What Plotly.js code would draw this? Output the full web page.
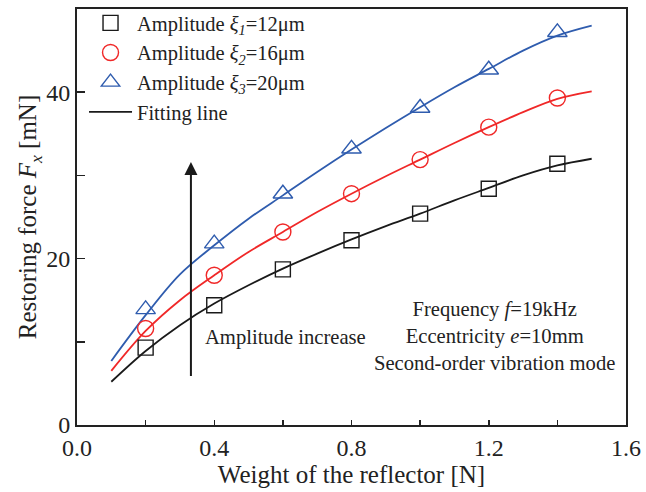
<!DOCTYPE html>
<html>
<head>
<meta charset="utf-8">
<script src="https://cdn.plot.ly/plotly-3.0.1.min.js"></script>
<style>html,body{margin:0;padding:0;background:#fff;}#chart{width:646px;height:492px;}</style>
</head>
<body>
<div id="chart"></div>
<script>
// Measured data points
const weights = [0.2, 0.4, 0.6, 0.8, 1.0, 1.2, 1.4];
const force12 = [9.3, 14.4, 18.7, 22.2, 25.4, 28.4, 31.4];
const force16 = [11.6, 18.0, 23.2, 27.8, 31.9, 35.8, 39.3];
const force20 = [13.9, 21.8, 27.8, 33.2, 38.1, 42.7, 47.2];

// Fitting lines
const fitX   = [0.1, 0.2, 0.3, 0.4, 0.5, 0.6, 0.7, 0.8, 0.9, 1.0, 1.1, 1.2, 1.3, 1.4, 1.5];
const fit12  = [5.2, 8.9, 12.0, 14.6, 16.8, 18.8, 20.6, 22.3, 23.9, 25.4, 27.0, 28.5, 30.0, 31.2, 32.0];
const fit16  = [6.5, 11.3, 15.0, 18.0, 20.8, 23.2, 25.6, 27.8, 29.9, 31.9, 33.9, 35.8, 37.6, 39.2, 40.1];
const fit20  = [7.7, 13.2, 18.1, 21.6, 24.8, 27.6, 30.4, 33.1, 35.7, 38.2, 40.6, 42.8, 45.0, 46.8, 48.0];

const xTickVals = [0, 0.2, 0.4, 0.6, 0.8, 1.0, 1.2, 1.4, 1.6];
const xTickText = ["0.0", "", "0.4", "", "0.8", "", "1.2", "", "1.6"];
const yTickVals = [0, 10, 20, 30, 40];
const yTickText = ["0", "", "20", "", "40"];

const names = [
  "Amplitude <i>ξ<sub>1</sub></i>=12μm",
  "Amplitude <i>ξ<sub>2</sub></i>=16μm",
  "Amplitude <i>ξ<sub>3</sub></i>=20μm",
  "Fitting line"
];

const BLACK = "#1a1a1a", RED = "#f02828", BLUE = "#2f5cae";
const FONT = "Liberation Serif";
const TXT = "#222";

const traces = [
  {x: fitX, y: fit20, mode: "lines", line: {color: BLUE, width: 1.8, shape: "spline"}, showlegend: false, hoverinfo: "skip"},
  {x: fitX, y: fit16, mode: "lines", line: {color: RED, width: 1.8, shape: "spline"}, showlegend: false, hoverinfo: "skip"},
  {x: weights, y: force12, mode: "markers", name: names[0], legendrank: 1,
   marker: {symbol: "square-open", size: 15, color: BLACK, line: {width: 1.4, color: BLACK}}},
  {x: weights, y: force16, mode: "markers", name: names[1], legendrank: 2,
   marker: {symbol: "circle-open", size: 16, color: RED, line: {width: 1.4, color: RED}}},
  {x: weights, y: force20, mode: "markers", name: names[2], legendrank: 3,
   marker: {symbol: "triangle-up-open", size: 17, color: BLUE, line: {width: 1.4, color: BLUE}}},
  {x: fitX, y: fit12, mode: "lines", name: names[3], legendrank: 4,
   line: {color: BLACK, width: 1.8, shape: "spline"}}
];

const layout = {
  width: 646, height: 492,
  margin: {l: 77, r: 20, t: 9, b: 67, autoexpand: false},
  paper_bgcolor: "#fff", plot_bgcolor: "#fff",
  font: {family: FONT, color: TXT, size: 20},
  showlegend: true,
  legend: {x: 0.0128, y: 1.0144, xanchor: "left", yanchor: "top", bgcolor: "rgba(0,0,0,0)",
           font: {family: FONT, size: 20.5, color: TXT}, tracegroupgap: 0, itemwidth: 43},
  xaxis: {
    range: [0, 1.6], tickvals: xTickVals, ticktext: xTickText,
    ticks: "inside", ticklen: 5, tickwidth: 1.5, tickcolor: TXT,
    showline: true, linecolor: TXT, linewidth: 2, mirror: true,
    showgrid: false, zeroline: false,
    tickfont: {family: FONT, size: 24, color: TXT},
    title: {text: "Weight of the reflector [N]", font: {family: FONT, size: 25, color: TXT}, standoff: 0}
  },
  yaxis: {
    range: [0, 50], tickvals: yTickVals, ticktext: yTickText,
    ticks: "inside", ticklen: 8, tickwidth: 1.5, tickcolor: TXT,
    showline: true, linecolor: TXT, linewidth: 2, mirror: true,
    showgrid: false, zeroline: false,
    tickfont: {family: FONT, size: 24, color: TXT},
    title: {text: "Restoring force <i>F<sub>x</sub></i> [mN]", font: {family: FONT, size: 25, color: TXT}, standoff: 2}
  },
  annotations: [
    {x: 0.332, y: 31.6, ax: 0.332, ay: 5.7, xref: "x", yref: "y", axref: "x", ayref: "y",
     showarrow: true, arrowhead: 2, arrowsize: 1.3, arrowwidth: 2, arrowcolor: "#1a1a1a", text: ""},
    {x: 0.368, y: 10.5, xref: "x", yref: "y", xanchor: "left", yanchor: "middle", showarrow: false,
     text: "Amplitude increase", font: {family: FONT, size: 20.6, color: TXT}},
    {x: 1.218, y: 10.66, xref: "x", yref: "y", xanchor: "center", yanchor: "middle", showarrow: false, align: "center",
     text: "Frequency <i>f</i>=19kHz<br>Eccentricity <i>e</i>=10mm<br>Second-order vibration mode",
     font: {family: FONT, size: 20.6, color: TXT}}
  ]
};

Plotly.newPlot("chart", traces, layout, {displayModeBar: false, staticPlot: true});
</script>
</body>
</html>
